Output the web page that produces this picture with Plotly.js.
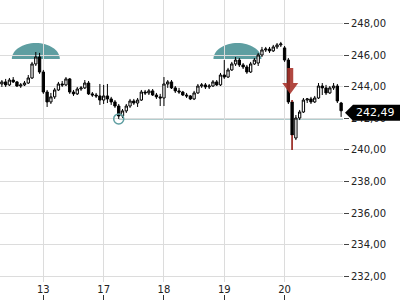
<!DOCTYPE html>
<html><head><meta charset="utf-8">
<script src="https://cdn.plot.ly/plotly-3.0.1.min.js"></script>
<style>html,body{margin:0;padding:0;background:#fff}#chart{width:400px;height:300px}</style>
</head><body><div id="chart"></div>
<script>
const openP = [
 244.19,244.32,244.13,244.44,244.32,244.06,244.13,244.25,244.57,245.46,
 245.90,244.95,243.68,243.05,243.37,243.81,244.19,244.13,244.51,243.68,
 243.56,243.87,243.94,244.25,243.56,243.49,243.43,243.17,243.43,243.24,
 243.05,242.79,242.16,242.48,242.79,243.11,242.98,243.17,243.68,243.62,
 243.75,243.49,243.37,243.30,244.19,244.32,243.94,243.75,243.68,243.49,
 243.43,243.24,243.62,244.06,244.13,244.00,244.06,244.32,244.13,244.76,
 244.63,245.08,245.46,245.71,245.40,245.27,244.95,245.46,245.52,246.03,
 246.35,246.41,246.29,246.54,246.67,246.48,245.71,243.05,240.76,242.03,
 242.41,243.17,243.24,243.05,243.30,244.06,243.94,243.62,243.94,244.06,
 242.98];
const highP = [
 244.44,244.51,244.57,244.63,244.38,244.25,244.38,244.76,245.59,246.22,
 246.16,245.08,243.81,243.62,243.94,244.32,244.38,244.63,244.57,243.81,
 244.00,244.06,244.44,244.38,243.68,243.62,244.19,244.13,244.19,243.37,
 243.17,242.92,242.60,242.92,243.24,243.24,243.30,243.81,243.81,243.87,
 243.87,243.62,243.56,244.63,244.44,244.44,244.06,243.94,243.75,243.62,
 243.49,243.75,244.19,244.25,244.25,244.19,244.44,244.44,244.89,245.71,
 245.21,245.59,245.90,245.84,245.52,245.40,245.59,245.84,246.16,246.54,
 246.54,246.54,246.67,246.79,246.86,246.60,245.84,243.17,242.22,242.54,
 243.30,243.30,243.37,243.43,244.25,244.25,244.13,244.06,244.25,244.19,
 243.05];
const lowP = [
 244.00,244.00,244.06,244.25,244.00,243.94,244.06,244.19,244.51,245.33,
 244.83,243.56,242.73,242.92,243.24,243.75,244.00,244.06,243.56,243.43,
 243.49,243.75,243.87,243.49,243.37,243.30,242.86,242.92,242.98,242.86,
 242.67,241.97,242.03,242.35,242.67,242.86,242.73,243.11,243.49,243.49,
 243.43,243.24,242.79,242.79,243.94,243.87,243.62,243.56,243.43,243.30,
 243.17,243.17,243.56,243.94,243.87,243.87,244.00,244.06,244.06,244.51,
 244.57,245.02,245.33,245.27,245.14,244.83,244.89,245.40,245.33,245.90,
 246.22,246.16,246.22,246.41,246.54,245.59,242.92,240.00,240.63,241.90,
 242.35,242.98,242.92,242.98,243.24,243.49,243.49,243.56,243.81,242.98,
 242.10];
const closeP = [
 244.32,244.13,244.44,244.32,244.06,244.13,244.25,244.57,245.46,245.90,
 244.95,243.68,243.05,243.37,243.81,244.19,244.13,244.51,243.68,243.56,
 243.87,243.94,244.25,243.56,243.49,243.43,243.17,243.43,243.24,243.05,
 242.79,242.16,242.48,242.79,243.11,242.98,243.17,243.68,243.62,243.75,
 243.49,243.37,243.30,244.19,244.32,243.94,243.75,243.68,243.49,243.43,
 243.24,243.62,244.06,244.13,244.00,244.06,244.32,244.13,244.76,244.63,
 245.08,245.46,245.71,245.40,245.27,244.95,245.46,245.71,246.03,246.35,
 246.41,246.29,246.54,246.67,246.73,245.71,243.05,240.95,242.03,242.41,
 243.17,243.24,243.05,243.30,244.06,243.94,243.62,243.94,244.06,243.11,
 242.49];
const dayLabels = ['13','17','18','19','20'];
const dayStartIdx = [11, 27, 43, 59, 75];
const yTicks = [232, 234, 236, 238, 240, 242, 244, 246, 248];
const lastPrice = 242.49;
const domeIdx = [9, 62.5];
const domeLevel = 245.78;
const lowMarkIdx = 31;
const lowMarkPrice = 241.97;
const downSignalIdx = 76.5;
const downSignalPrice = 243.56;
const redWickIdx = 77;

const xIdx = openP.map((_, i) => i);
const xRange = [-0.5, xIdx.length - 0.5];
const teal = '#5e9ea1';

const rw = redWickIdx;
const traces = [
  {
    type: 'candlestick', x: xIdx, open: openP, high: highP, low: lowP, close: closeP,
    increasing: {line: {color: '#000', width: 1}, fillcolor: '#fff'},
    decreasing: {line: {color: '#000', width: 1}, fillcolor: '#000'},
    whiskerwidth: 0, hoverinfo: 'skip'
  },
  {
    type: 'scatter', mode: 'lines',
    x: [rw, rw, null, rw, rw],
    y: [lowP[rw], Math.min(openP[rw], closeP[rw]), null, Math.max(openP[rw], closeP[rw]), highP[rw]],
    line: {color: '#b0332b', width: 1.5}, hoverinfo: 'skip'
  },
  {
    type: 'scatter', mode: 'markers', x: [lowMarkIdx], y: [lowMarkPrice],
    marker: {symbol: 'circle-open', size: 10, color: teal, line: {width: 1.5, color: teal}},
    hoverinfo: 'skip'
  },
  {
    type: 'scatter', mode: 'markers', x: [0], y: [null], xaxis: 'x2', yaxis: 'y',
    hoverinfo: 'skip', showlegend: false
  }
];

const domePath = 'M-24,0 C-24,8.84 -13.26,16 0,16 C13.26,16 24,8.84 24,0 Z';
const shapes = domeIdx.map(d => ({
  type: 'path', xref: 'x', yref: 'y', xsizemode: 'pixel', ysizemode: 'pixel',
  xanchor: d, yanchor: domeLevel, path: domePath,
  fillcolor: teal, line: {width: 0}, layer: 'below'
}));
shapes.push({
  type: 'line', xref: 'x', yref: 'y', x0: lowMarkIdx, x1: xRange[1], y0: lowMarkPrice, y1: lowMarkPrice,
  line: {color: '#4f8d8f', width: 1}, layer: 'below'
});
shapes.push({
  type: 'path', xref: 'x', yref: 'y', xsizemode: 'pixel', ysizemode: 'pixel',
  xanchor: downSignalIdx, yanchor: downSignalPrice,
  path: 'M0,0 L-8,11 L-3,11 L-3,26 L3,26 L3,11 L8,11 Z',
  fillcolor: '#a8342c', opacity: 0.9, line: {width: 0}, layer: 'above'
});
shapes.push({
  type: 'path', xref: 'paper', yref: 'y', xsizemode: 'pixel', ysizemode: 'pixel',
  xanchor: 1, yanchor: lastPrice,
  path: 'M2,-2 L10,-10 L57,-10 L57,6 L10,6 Z',
  fillcolor: '#000', line: {width: 0}, layer: 'above'
});

const layout = {
  width: 400, height: 300,
  margin: {l: 0, r: 57, t: 0, b: 0},
  paper_bgcolor: '#fff', plot_bgcolor: '#fff',
  separators: ',.',
  showlegend: false,
  boxgap: 0.12,
  font: {family: 'DejaVu Sans', size: 10, color: '#222'},
  xaxis: {
    range: xRange, tickmode: 'array', tickvals: dayStartIdx, ticktext: dayLabels,
    showgrid: true, gridcolor: '#dcdcdc', gridwidth: 1, ticks: '', zeroline: false, showline: false,
    rangeslider: {visible: false}, fixedrange: true
  },
  xaxis2: {
    overlaying: 'x', anchor: 'free', position: 0, side: 'bottom', range: xRange,
    tickmode: 'array', tickvals: dayStartIdx, showticklabels: false,
    ticks: 'inside', ticklen: 5, tickcolor: '#333', tickwidth: 1,
    showgrid: false, zeroline: false, showline: false
  },
  yaxis: {
    domain: [0.06, 1], side: 'right', range: [231.62, 249.52],
    tickmode: 'array', tickvals: yTicks, tickformat: '.2f',
    ticks: 'outside', ticklen: 5, tickcolor: '#444',
    gridcolor: '#dcdcdc', gridwidth: 1, zeroline: false, showline: false, fixedrange: true
  },
  shapes: shapes,
  annotations: [{
    xref: 'paper', yref: 'y', x: 1, y: lastPrice, xanchor: 'left', yanchor: 'middle',
    xshift: 11, yshift: -2, showarrow: false, text: '242,49',
    font: {family: 'DejaVu Sans', size: 11, color: '#fff'}
  }]
};

Plotly.newPlot('chart', traces, layout, {displayModeBar: false, staticPlot: true});
</script>
</body></html>
